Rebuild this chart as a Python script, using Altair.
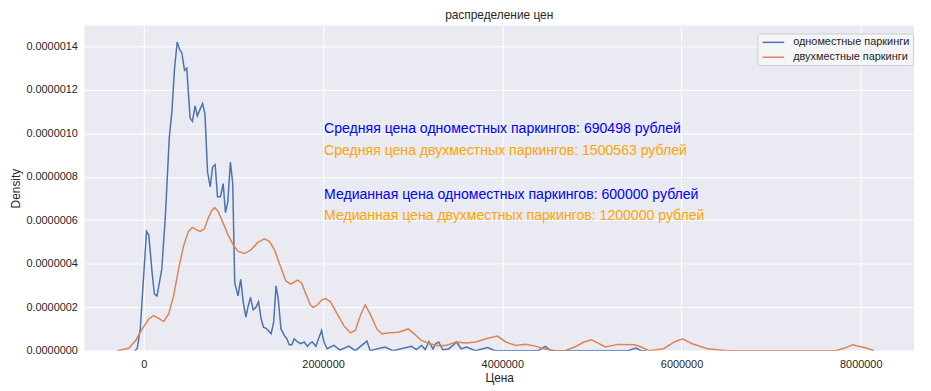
import altair as alt
import pandas as pd

FONT = "Liberation Sans"

series_names = ["одноместные паркинги", "двухместные паркинги"]
series_colors = ["#4c72b0", "#dd8452"]

# x in millions of roubles, y in 1e-6 density units
blue_x = [-0.10, -0.074, -0.04, 0.03, 0.055, 0.092, 0.118, 0.147, 0.20, 0.24, 0.284, 0.313, 0.343, 0.372,
          0.40, 0.424, 0.454, 0.479, 0.516, 0.542, 0.572, 0.597, 0.627, 0.656, 0.682, 0.711, 0.741, 0.767,
          0.796, 0.822, 0.855, 0.885, 0.911, 0.937, 0.966, 0.992, 1.014, 1.051, 1.081, 1.11, 1.139, 1.165,
          1.191, 1.22, 1.25, 1.28, 1.309, 1.335, 1.364, 1.42, 1.449, 1.475, 1.50, 1.53, 1.567, 1.596, 1.622,
          1.652, 1.678, 1.715, 1.75, 1.79, 1.825, 1.86, 1.88, 1.92, 1.983, 2.01, 2.046, 2.12, 2.19, 2.287,
          2.36, 2.489, 2.525, 2.69, 2.78, 2.987, 3.04, 3.10, 3.14, 3.18, 3.227, 3.256, 3.29, 3.336, 3.40,
          3.45, 3.49, 3.54, 3.60, 3.70, 3.835, 3.92, 4.40, 4.48, 4.54, 5.40, 5.49, 5.55, 5.60]
blue_y = [0.0, 0.01, 0.10, 0.549, 0.533, 0.36, 0.26, 0.252, 0.374, 0.617, 0.98, 1.10, 1.30, 1.42,
          1.385, 1.37, 1.29, 1.30, 1.07, 1.055, 1.126, 1.08, 1.11, 1.137, 1.088, 0.822, 0.754, 0.845,
          0.856, 0.708, 0.708, 0.769, 0.635, 0.685, 0.868, 0.769, 0.313, 0.252, 0.328, 0.222, 0.154, 0.207,
          0.245, 0.188, 0.199, 0.225, 0.146, 0.108, 0.103, 0.078, 0.131, 0.298, 0.237, 0.10, 0.07, 0.055, 0.027,
          0.027, 0.055, 0.04, 0.032, 0.04, 0.02, 0.036, 0.04, 0.02, 0.093, 0.04, 0.009, 0.024, 0.003, 0.021,
          0.0, 0.044, 0.0, 0.017, 0.0, 0.02, 0.005, 0.024, 0.005, 0.042, 0.008, 0.032, 0.04, 0.004, 0.008,
          0.024, 0.04, 0.008, 0.017, 0.0, 0.014, 0.0, 0.0, 0.02, 0.0, 0.0, 0.012, 0.0, 0.0]

orange_x = [-0.30, -0.27, -0.166, -0.092, -0.018, 0.055, 0.11, 0.166, 0.221, 0.277, 0.332, 0.387, 0.442,
            0.498, 0.542, 0.59, 0.627, 0.675, 0.719, 0.756, 0.793, 0.83, 0.885, 0.94, 0.996, 1.051, 1.125,
            1.198, 1.272, 1.346, 1.40, 1.457, 1.523, 1.585, 1.64, 1.715, 1.759, 1.807, 1.86, 1.89, 1.936,
            1.99, 2.028, 2.083, 2.157, 2.231, 2.304, 2.36, 2.415, 2.47, 2.525, 2.60, 2.655, 2.747, 2.84,
            2.95, 3.005, 3.097, 3.19, 3.28, 3.374, 3.484, 3.595, 3.706, 3.816, 3.946, 4.038, 4.148, 4.259,
            4.37, 4.46, 4.59, 4.70, 4.81, 4.91, 4.996, 5.07, 5.15, 5.29, 5.475, 5.55, 5.64, 5.80, 5.92,
            6.01, 6.12, 6.29, 6.51, 7.72, 7.82, 7.91, 8.06, 8.15]
orange_y = [0.0, 0.002, 0.012, 0.047, 0.10, 0.146, 0.161, 0.149, 0.134, 0.169, 0.252, 0.374, 0.48,
            0.549, 0.567, 0.556, 0.549, 0.56, 0.61, 0.644, 0.658, 0.64, 0.587, 0.533, 0.488, 0.457, 0.447,
            0.465, 0.498, 0.514, 0.503, 0.465, 0.389, 0.321, 0.306, 0.325, 0.313, 0.262, 0.21, 0.199, 0.21,
            0.235, 0.24, 0.225, 0.169, 0.115, 0.082, 0.093, 0.161, 0.211, 0.169, 0.10, 0.078, 0.082, 0.085,
            0.10, 0.082, 0.047, 0.032, 0.024, 0.024, 0.04, 0.035, 0.04, 0.055, 0.067, 0.04, 0.024, 0.029,
            0.021, 0.009, 0.0, 0.0, 0.017, 0.04, 0.05, 0.035, 0.017, 0.029, 0.027, 0.017, 0.0, 0.009, 0.04,
            0.055, 0.032, 0.009, 0.0, 0.0, 0.012, 0.027, 0.012, 0.0]

notes = [
    "Средняя цена одноместных паркингов: 690498 рублей",
    "Средняя цена двухместных паркингов: 1500563 рублей",
    "Медианная цена одноместных паркингов: 600000 рублей",
    "Медианная цена двухместных паркингов: 1200000 рублей",
]
note_y = [1.0e-6, 0.9e-6, 0.7e-6, 0.6e-6]
note_colors = ["blue", "orange", "blue", "orange"]
note_x = 2000000

x_ticks = [0, 2000000, 4000000, 6000000, 8000000]
y_ticks = [0, 2e-7, 4e-7, 6e-7, 8e-7, 1e-6, 1.2e-6, 1.4e-6]

rows = []
for i, (x, y) in enumerate(zip(blue_x, blue_y)):
    rows.append({"price": x * 1e6, "density": y * 1e-6, "series": series_names[0], "order": i})
for i, (x, y) in enumerate(zip(orange_x, orange_y)):
    rows.append({"price": x * 1e6, "density": y * 1e-6, "series": series_names[1], "order": i})
df = pd.DataFrame(rows)

notes_df = pd.DataFrame({"price": [note_x] * 4, "density": note_y, "text": notes, "color": note_colors})

xscale = alt.Scale(domain=[-664000, 8595000], nice=False, zero=False)
yscale = alt.Scale(domain=[0, 1.496e-6], nice=False)

lines = alt.Chart(df).mark_line(strokeWidth=1.5, clip=True).encode(
    x=alt.X("price:Q", scale=xscale, title="Цена",
            axis=alt.Axis(values=x_ticks, format="d", labelPadding=8, titlePadding=3)),
    y=alt.Y("density:Q", scale=yscale, title="Density",
            axis=alt.Axis(values=y_ticks, format=".7f", labelPadding=7, titlePadding=3)),
    color=alt.Color("series:N", scale=alt.Scale(domain=series_names, range=series_colors),
                    legend=alt.Legend(title=None, orient="none", legendX=679, legendY=8)),
    detail="series:N",
    order="order:Q",
)

text = alt.Chart(notes_df).mark_text(align="left", baseline="alphabetic", fontSize=14.2, font=FONT, dx=1).encode(
    x=alt.X("price:Q", scale=xscale),
    y=alt.Y("density:Q", scale=yscale),
    text="text:N",
    color=alt.Color("color:N", scale=None),
)

chart = alt.layer(lines, text).properties(
    width=837, height=328,
    title=alt.TitleParams("распределение цен", fontSize=12, font=FONT, fontWeight="normal",
                          color="#262626", offset=4, anchor="middle"),
    autosize=alt.AutoSizeParams(type="none"),
    padding={"left": 77, "top": 16, "right": 9, "bottom": 38},
).configure_view(
    fill="#eaeaf2", stroke=None,
).configure_axis(
    grid=True, gridColor="#ffffff", gridWidth=1, domain=False, ticks=False,
    labelFont=FONT, labelFontSize=11, labelColor="#262626",
    titleFont=FONT, titleFontSize=12, titleColor="#262626", titleFontWeight="normal",
).configure_legend(
    fillColor="#f5f5f8", strokeColor="#cccccc", cornerRadius=3, padding=3,
    symbolType="M-2.2,0H2.2", symbolStrokeWidth=1.5, symbolSize=100, symbolOffset=7,
    symbolFillColor="transparent", labelOffset=14,
    labelFont=FONT, labelFontSize=11, labelColor="#262626", labelLimit=300, rowPadding=4,
)

chart.save("out.html", embed_options={"renderer": "svg", "actions": False})
